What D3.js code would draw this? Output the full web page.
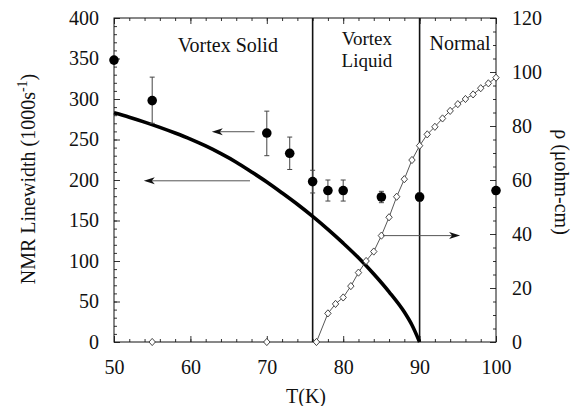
<!DOCTYPE html>
<html>
<head>
<meta charset="utf-8">
<script src="https://cdn.jsdelivr.net/npm/d3@7"></script>
<style>
  body { margin: 0; background: #fff; }
  svg { display: block; }
  svg text { font-family: "Liberation Serif", "Times New Roman", serif; }
  .tick text { font-size: 20px; fill: #111; }
  .domain { display: none; }
</style>
</head>
<body>
<div id="chart"></div>
<script>
"use strict";

// NMR linewidth points (left axis)
var nmrT = [50, 55, 70, 73, 76, 78, 80, 85, 90, 100];
var nmrW = [348, 298, 258, 233, 198, 187, 187, 179, 179, 187];
var nmrLow = [null, 270, 230, 213, 184, 174, 174, 172, 174, null];
var nmrHigh = [null, 327, 285, 253, 212, 200, 200, 186, 184, null];

// thick theory curve (left axis)
var curveT = [50, 52, 54, 56, 58, 60, 62, 64, 66, 68, 70, 72, 74, 76, 78, 80, 82, 84, 86, 88, 89, 90];
var curveW = [283, 277.5, 271.5, 265, 258, 250.5, 242, 232.5, 222, 210, 197.5, 184, 170, 155, 139, 122, 104, 84, 62, 37, 21, 0];

// resistivity (right axis)
var rhoT = [55, 70, 76.5, 78, 79, 80, 81, 82, 83, 84, 85, 86, 87, 88, 89, 90, 91, 92, 93, 94, 95, 96, 97, 98, 99, 100];
var rhoV = [0, 0, 0, 10.6, 14.1, 16.5, 20.7, 25.7, 30, 33.5, 39.4, 46.2, 53.8, 60.3, 67.4, 72.7, 76.9, 79.7, 82.8, 85.6, 88.1, 90, 91.7, 94, 95.8, 97.9];

// phase boundaries
var boundaries = [76, 90];

// arrows: from, to, level, which axis
var arrowFrom = [68.4, 67.8, 85.2];
var arrowTo = [62.8, 53.9, 95.3];
var arrowLevel = [259.6, 199, 39.4];
var arrowAxis = ["left", "left", "right"];

var xTicks = [50, 60, 70, 80, 90, 100];
var yLeftTicks = [0, 50, 100, 150, 200, 250, 300, 350, 400];
var yRightTicks = [0, 20, 40, 60, 80, 100, 120];

var margin = { top: 18, right: 81, bottom: 64, left: 114 };
var width = 577 - margin.left - margin.right;
var height = 406 - margin.top - margin.bottom;

var svg = d3.select("#chart").append("svg").attr("width", 577).attr("height", 406)
  .append("g").attr("transform", "translate(" + margin.left + "," + margin.top + ")");

var x = d3.scaleLinear().domain([50, 100]).range([0, width]);
var yL = d3.scaleLinear().domain([0, 400]).range([height, 0]);
var yR = d3.scaleLinear().domain([0, 120]).range([height, 0]);

var ink = "#111";
var serif = "'Liberation Serif', 'Times New Roman', serif";

// minor ticks
function minor(axis, vals, g) {
  svg.append("g").attr("transform", g).call(axis.tickValues(vals).tickFormat("").tickSize(-3))
    .selectAll("line").attr("stroke", "#333");
}
minor(d3.axisBottom(x), d3.range(50, 101, 2), "translate(0," + height + ")");
minor(d3.axisTop(x), d3.range(50, 101, 2), "translate(0,0)");
minor(d3.axisLeft(yL), d3.range(0, 401, 10), "translate(0,0)");
minor(d3.axisRight(yR), d3.range(0, 121, 5), "translate(" + width + ",0)");

// major ticks with labels
svg.append("g").attr("transform", "translate(0," + height + ")")
  .call(d3.axisBottom(x).tickValues(xTicks).tickSize(-6).tickPadding(18));
svg.append("g").call(d3.axisTop(x).tickValues(xTicks).tickSize(-6).tickFormat(""));
svg.append("g").call(d3.axisLeft(yL).tickValues(yLeftTicks).tickSize(-6).tickPadding(15));
svg.append("g").attr("transform", "translate(" + width + ",0)")
  .call(d3.axisRight(yR).tickValues(yRightTicks).tickSize(-6).tickPadding(16));
svg.selectAll(".tick line").attr("stroke", "#333");
svg.selectAll("g").attr("font-family", serif);

// frame
svg.append("rect").attr("width", width).attr("height", height)
  .attr("fill", "none").attr("stroke", ink).attr("stroke-width", 1);

// phase boundaries
svg.selectAll(".bound").data(boundaries).enter().append("line")
  .attr("x1", function (d) { return x(d); }).attr("x2", function (d) { return x(d); })
  .attr("y1", 0).attr("y2", height).attr("stroke", ink).attr("stroke-width", 1.6);

// theory curve
var curveData = curveT.map(function (t, i) { return { t: t, w: curveW[i] }; });
svg.append("path").datum(curveData)
  .attr("d", d3.line().x(function (d) { return x(d.t); }).y(function (d) { return yL(d.w); }).curve(d3.curveMonotoneX))
  .attr("fill", "none").attr("stroke", "#000").attr("stroke-width", 3.6);

// resistivity line + diamonds
var rhoData = rhoT.map(function (t, i) { return { t: t, r: rhoV[i] }; });
svg.append("path").datum(rhoData.filter(function (d) { return d.t >= 76; }))
  .attr("d", d3.line().x(function (d) { return x(d.t); }).y(function (d) { return yR(d.r); }))
  .attr("fill", "none").attr("stroke", "#444").attr("stroke-width", 0.9);
svg.selectAll(".dia").data(rhoData).enter().append("path")
  .attr("transform", function (d) { return "translate(" + x(d.t) + "," + yR(d.r) + ")"; })
  .attr("d", "M0,-3.6L3.2,0L0,3.6L-3.2,0Z")
  .attr("fill", "#fff").attr("stroke", "#333").attr("stroke-width", 0.9);

// arrows
svg.selectAll(".arr").data(arrowFrom).enter().append("g").each(function (d, i) {
  var ys = arrowAxis[i] === "left" ? yL : yR;
  var x1 = x(arrowFrom[i]), x2 = x(arrowTo[i]), yy = ys(arrowLevel[i]);
  var dir = x2 > x1 ? 1 : -1;
  var g = d3.select(this);
  g.append("line").attr("x1", x1).attr("x2", x2 - dir * 8).attr("y1", yy).attr("y2", yy)
    .attr("stroke", "#555").attr("stroke-width", 1);
  g.append("path")
    .attr("d", "M" + x2 + "," + yy + "L" + (x2 - dir * 11) + "," + (yy - 3.5) + "L" + (x2 - dir * 8) + "," + yy + "L" + (x2 - dir * 11) + "," + (yy + 3.5) + "Z")
    .attr("fill", "#111");
});

// NMR points with error bars
var nmrData = nmrT.map(function (t, i) { return { t: t, w: nmrW[i], lo: nmrLow[i], hi: nmrHigh[i] }; });
var bars = nmrData.filter(function (d) { return d.lo !== null; });
svg.selectAll(".eb").data(bars).enter().append("line")
  .attr("x1", function (d) { return x(d.t); }).attr("x2", function (d) { return x(d.t); })
  .attr("y1", function (d) { return yL(d.lo); }).attr("y2", function (d) { return yL(d.hi); })
  .attr("stroke", "#444").attr("stroke-width", 1);
["lo", "hi"].forEach(function (k) {
  svg.selectAll(".cap" + k).data(bars).enter().append("line")
    .attr("x1", function (d) { return x(d.t) - 2.5; }).attr("x2", function (d) { return x(d.t) + 2.5; })
    .attr("y1", function (d) { return yL(d[k]); }).attr("y2", function (d) { return yL(d[k]); })
    .attr("stroke", "#444").attr("stroke-width", 1);
});
svg.selectAll(".pt").data(nmrData).enter().append("circle")
  .attr("cx", function (d) { return x(d.t); }).attr("cy", function (d) { return yL(d.w); })
  .attr("r", 4.8).attr("fill", "#000");

// region labels
function label(t, v, s, fs) {
  svg.append("text").attr("x", x(t)).attr("y", yL(v)).attr("text-anchor", "middle")
    .attr("font-family", serif).attr("font-size", fs).attr("fill", ink).text(s);
}
label(64.9, 358, "Vortex Solid", 20);
label(83.1, 367, "Vortex", 19);
label(83.1, 340, "Liquid", 19);
label(95.3, 360, "Normal", 20);

// axis titles
svg.append("text").attr("text-anchor", "middle").attr("font-family", serif).attr("font-size", 20).attr("fill", ink)
  .attr("x", width / 2 + 1).attr("y", height + 61).text("T(K)");

var lt = svg.append("text").attr("text-anchor", "middle").attr("font-family", serif).attr("font-size", 20).attr("fill", ink)
  .attr("transform", "translate(-79," + (height / 2 - 1) + ")rotate(-90)");
lt.append("tspan").text("NMR Linewidth (1000s");
lt.append("tspan").attr("font-size", 14).attr("dy", -8).text("-1");
lt.append("tspan").attr("dy", 8).text(")");

svg.append("text").attr("text-anchor", "middle").attr("font-family", serif).attr("font-size", 20).attr("fill", ink)
  .attr("transform", "translate(" + (width + 59) + "," + (height / 2 + 2) + ")rotate(90)")
  .text("ρ (μohm-cm)");
</script>
</body>
</html>
